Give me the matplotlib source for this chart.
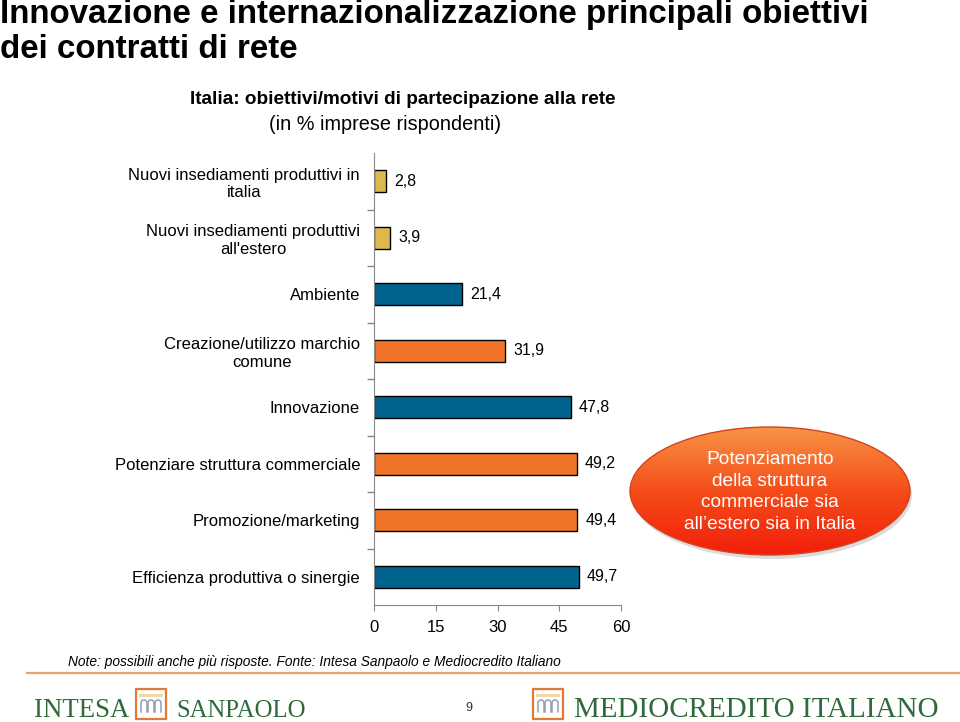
import matplotlib
matplotlib.use("Agg")
import matplotlib.pyplot as plt
import matplotlib.patches as mpatches
import numpy as np

plt.rcParams['font.family'] = ['Liberation Sans', 'DejaVu Sans']

categories = [
    "Nuovi insediamenti produttivi in\nitalia",
    "Nuovi insediamenti produttivi\nall'estero",
    "Ambiente",
    "Creazione/utilizzo marchio\ncomune",
    "Innovazione",
    "Potenziare struttura commerciale",
    "Promozione/marketing",
    "Efficienza produttiva o sinergie",
]
values = [2.8, 3.9, 21.4, 31.9, 47.8, 49.2, 49.4, 49.7]
groups = ['gold', 'gold', 'blue', 'orange', 'blue', 'orange', 'orange', 'blue']
xticks = [0, 15, 30, 45, 60]

colors = {'gold': '#DDB94C', 'blue': '#00648F', 'orange': '#F07428'}

W, H = 960, 722
fig = plt.figure(figsize=(W / 100, H / 100), dpi=100)
renderer = fig.canvas.get_renderer()

# overlay in pixel coords for decorations
ov = fig.add_axes([0, 0, 1, 1])
ov.set_xlim(0, W)
ov.set_ylim(H, 0)
ov.axis('off')

ax = fig.add_axes([374 / W, 1 - 605 / H, 247 / W, 452 / H])
y = np.arange(len(categories))
bars = ax.barh(y, values, height=0.39, color=[colors[g] for g in groups],
               edgecolor='black', linewidth=1.0, zorder=2)
ax.bar_label(bars, labels=[f"{v:.1f}".replace('.', ',') for v in values],
             padding=6, fontsize=11.5)
ax.set_ylim(len(categories) - 0.5, -0.5)
ax.set_xlim(0, 60)
ax.set_xticks(xticks)
ax.set_yticks(y)
ax.set_yticklabels(categories, fontsize=12)
for t in ax.get_yticklabels():
    t.set_multialignment('center')
ax.set_yticks(np.arange(0.5, len(categories) - 1, 1), minor=True)
ax.tick_params(axis='y', which='major', length=0, pad=10)
ax.tick_params(axis='y', which='minor', length=5, color='#888888', width=1)
ax.tick_params(axis='x', length=4, color='#888888', labelsize=12, pad=7)
for s in ['top', 'right']:
    ax.spines[s].set_visible(False)
for s in ['left', 'bottom']:
    ax.spines[s].set_color('#888888')
ax.patch.set_alpha(0)


def fit_width(txt, width):
    # shrink/grow a text object so it spans the given pixel width
    bb = txt.get_window_extent(renderer)
    txt.set_fontsize(txt.get_fontsize() * width / bb.width)
    return txt


t1 = ov.text(0, 14, "Innovazione e internazionalizzazione principali obiettivi",
             fontsize=23, fontweight='bold', va='center', ha='left')
fit_width(t1, 872)
ov.text(0, 50, "dei contratti di rete", fontsize=t1.get_fontsize(),
        fontweight='bold', va='center', ha='left')
fit_width(ov.text(403, 100, "Italia: obiettivi/motivi di partecipazione alla rete",
                  fontsize=12.5, fontweight='bold', va='center', ha='center'), 425)
fit_width(ov.text(385, 124, "(in % imprese rispondenti)",
                  fontsize=12.5, va='center', ha='center'), 232)

# callout ellipse with gradient
cx, cy, ew, eh = 770, 491, 280, 128
shadow = mpatches.Ellipse((cx + 2, cy + 4), ew, eh, facecolor='#999999', alpha=0.35,
                          edgecolor='none', zorder=1)
ov.add_patch(shadow)
ell = mpatches.Ellipse((cx, cy), ew, eh, facecolor='none', edgecolor='#D4431C',
                       linewidth=1.0, zorder=3)
ov.add_patch(ell)
grad = np.linspace(0, 1, 256)
top = np.array([0.97, 0.58, 0.27])
mid = np.array([0.96, 0.30, 0.10])
bot = np.array([0.95, 0.12, 0.04])
img = np.where(grad[:, None] < 0.5,
               top + (mid - top) * (grad[:, None] / 0.5),
               mid + (bot - mid) * ((grad[:, None] - 0.5) / 0.5))
img = img.reshape(256, 1, 3)
im = ov.imshow(img, extent=[cx - ew / 2, cx + ew / 2, cy + eh / 2, cy - eh / 2],
               aspect='auto', zorder=2, interpolation='bilinear')
clip = mpatches.Ellipse((cx, cy), ew, eh, transform=ov.transData)
im.set_clip_path(clip)
ov.set_xlim(0, W)
ov.set_ylim(H, 0)
ov.text(cx, cy + 1, "Potenziamento\ndella struttura\ncommerciale sia\nall\u2019estero sia in Italia",
        color='white', fontsize=13.8, ha='center', va='center', linespacing=1.38,
        multialignment='center', zorder=4)

# note and separator
fit_width(ov.text(68, 662,
                  "Note: possibili anche più risposte. Fonte: Intesa Sanpaolo e Mediocredito Italiano",
                  fontsize=10.5, style='italic', va='center', ha='left'), 494)
ov.plot([27, W], [673, 673], color='#E9A26C', linewidth=1.6)
ov.text(469, 708, "9", fontsize=9, color='#333333', ha='center', va='center')

green = '#2F6B3A'


def logo_text(s, x0, x1):
    t = ov.text(x0, 717, s, color=green, family='Liberation Serif', fontsize=20,
                ha='left', va='baseline')
    fit_width(t, x1 - x0)


def icon(x0, y0):
    ov.add_patch(mpatches.Rectangle((x0, y0), 30, 30, facecolor='white',
                                    edgecolor='#E07A38', linewidth=1.6, zorder=3))
    ov.add_patch(mpatches.Rectangle((x0 + 3, y0 + 5), 24, 3, facecolor='#F2D9A6',
                                    edgecolor='none', zorder=3))
    for k in range(3):
        xa = x0 + 5 + k * 7
        t = np.linspace(np.pi, 0, 20)
        xs = xa + 3 + 3 * np.cos(t)
        ys = y0 + 14 - 3 * np.sin(t)
        ov.plot(np.r_[xa, xs, xa + 6], np.r_[y0 + 23, ys, y0 + 23],
                color='#8A96A8', linewidth=1.0, zorder=4)


logo_text("INTESA", 34, 129)
icon(136, 689)
logo_text("SANPAOLO", 176, 306)
icon(533, 689)
logo_text("MEDIOCREDITO ITALIANO", 574, 937)

fig.savefig("out.png", dpi=100)
